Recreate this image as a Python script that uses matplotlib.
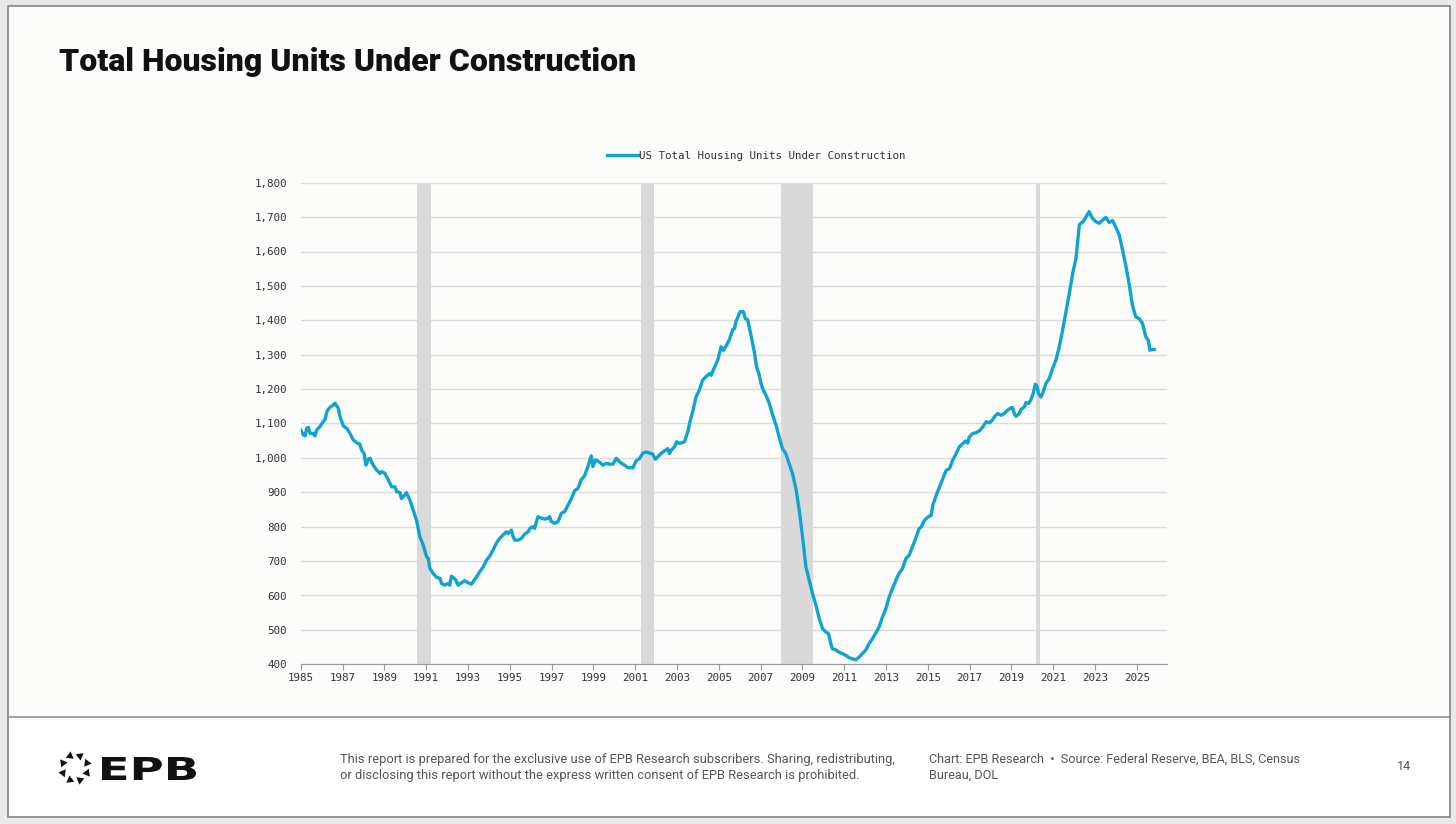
import numpy as np
import matplotlib
matplotlib.use("Agg")
from matplotlib import pyplot as plt
from matplotlib.patches import Rectangle, Polygon, PathPatch
from matplotlib.textpath import TextPath
from matplotlib.font_manager import FontProperties
from matplotlib.transforms import Affine2D
from matplotlib.ticker import FuncFormatter, MultipleLocator

# Fechas (año decimal) y miles de viviendas en construcción
fechas = [
    1985.00, 1985.13, 1985.21, 1985.29, 1985.37, 1985.45, 1985.61, 1985.68, 1985.76, 1985.92,
    1986.08, 1986.16, 1986.27, 1986.40, 1986.56, 1986.64, 1986.80, 1986.88, 1987.04, 1987.20,
    1987.36, 1987.52, 1987.68, 1987.83, 1987.91, 1988.03, 1988.12, 1988.23, 1988.31, 1988.47,
    1988.63, 1988.79, 1988.87, 1989.03, 1989.19, 1989.35, 1989.51, 1989.59, 1989.75, 1989.82,
    1989.98, 1990.06, 1990.22, 1990.38, 1990.54, 1990.70, 1990.86, 1991.02, 1991.10, 1991.18,
    1991.34, 1991.50, 1991.66, 1991.74, 1991.89, 1992.05, 1992.13, 1992.21, 1992.29, 1992.42,
    1992.53, 1992.69, 1992.85, 1993.01, 1993.17, 1993.25, 1993.41, 1993.57, 1993.73, 1993.89,
    1994.04, 1994.20, 1994.36, 1994.52, 1994.68, 1994.84, 1994.92, 1995.08, 1995.16, 1995.24,
    1995.40, 1995.56, 1995.72, 1995.88, 1995.96, 1996.11, 1996.19, 1996.35, 1996.51, 1996.67,
    1996.83, 1996.91, 1996.99, 1997.15, 1997.31, 1997.47, 1997.63, 1997.79, 1997.95, 1998.11,
    1998.26, 1998.42, 1998.58, 1998.74, 1998.90, 1998.98, 1999.11, 1999.27, 1999.46, 1999.62,
    1999.78, 1999.94, 2000.10, 2000.25, 2000.41, 2000.65, 2000.89, 2001.05, 2001.21, 2001.37,
    2001.53, 2001.68, 2001.84, 2001.97, 2002.08, 2002.24, 2002.40, 2002.56, 2002.64, 2002.72,
    2002.88, 2002.99, 2003.12, 2003.36, 2003.52, 2003.60, 2003.75, 2003.91, 2004.07, 2004.23,
    2004.39, 2004.55, 2004.63, 2004.79, 2004.95, 2005.11, 2005.22, 2005.35, 2005.51, 2005.67,
    2005.75, 2005.82, 2006.02, 2006.18, 2006.27, 2006.38, 2006.54, 2006.70, 2006.81, 2006.94,
    2007.02, 2007.13, 2007.26, 2007.42, 2007.58, 2007.74, 2007.89, 2008.05, 2008.21, 2008.37,
    2008.53, 2008.69, 2008.85, 2009.01, 2009.17, 2009.33, 2009.49, 2009.65, 2009.81, 2009.97,
    2010.12, 2010.25, 2010.36, 2010.44, 2010.60, 2010.76, 2010.92, 2011.08, 2011.24, 2011.40,
    2011.56, 2011.68, 2011.88, 2012.04, 2012.19, 2012.35, 2012.51, 2012.67, 2012.83, 2012.99,
    2013.15, 2013.31, 2013.47, 2013.63, 2013.79, 2013.95, 2014.11, 2014.26, 2014.42, 2014.58,
    2014.68, 2014.84, 2015.00, 2015.16, 2015.24, 2015.40, 2015.56, 2015.72, 2015.88, 2016.04,
    2016.19, 2016.35, 2016.51, 2016.67, 2016.80, 2016.91, 2016.99, 2017.15, 2017.31, 2017.47,
    2017.63, 2017.79, 2017.95, 2018.11, 2018.18, 2018.34, 2018.50, 2018.66, 2018.82, 2018.98,
    2019.06, 2019.14, 2019.22, 2019.38, 2019.46, 2019.62, 2019.70, 2019.82, 2019.94, 2020.05,
    2020.14, 2020.21, 2020.30, 2020.41, 2020.49, 2020.65, 2020.81, 2020.97, 2021.13, 2021.29,
    2021.45, 2021.61, 2021.77, 2021.93, 2022.09, 2022.25, 2022.32, 2022.44, 2022.56, 2022.72,
    2022.88, 2023.04, 2023.20, 2023.36, 2023.52, 2023.68, 2023.84, 2024.00, 2024.16, 2024.32,
    2024.47, 2024.63, 2024.79, 2024.95, 2025.11, 2025.27, 2025.43, 2025.56, 2025.62, 2025.72,
    2025.83,
]
viviendas = [
    1081, 1067, 1064, 1086, 1089, 1071, 1071, 1064, 1081, 1091,
    1105, 1112, 1137, 1147, 1154, 1159, 1144, 1120, 1093, 1086,
    1071, 1052, 1044, 1040, 1023, 1013, 979, 996, 999, 979,
    965, 955, 960, 955, 936, 916, 916, 902, 899, 882,
    892, 899, 878, 848, 819, 771, 747, 713, 708, 679,
    664, 653, 650, 635, 630, 635, 630, 656, 653, 645,
    630, 637, 643, 637, 633, 640, 654, 669, 683, 703,
    714, 732, 752, 766, 776, 785, 780, 790, 771, 761,
    761, 766, 779, 785, 795, 800, 795, 829, 825, 822,
    825, 829, 815, 810, 815, 839, 844, 863, 882, 905,
    911, 936, 948, 975, 1006, 975, 994, 989, 979, 984,
    982, 982, 999, 989, 982, 972, 971, 992, 998, 1014,
    1017, 1014, 1011, 996, 1003, 1013, 1020, 1027, 1013, 1022,
    1032, 1047, 1042, 1047, 1076, 1100, 1134, 1177, 1197, 1226,
    1236, 1245, 1240, 1263, 1284, 1323, 1313, 1325, 1344, 1373,
    1376, 1396, 1425, 1425, 1405, 1402, 1357, 1308, 1265, 1240,
    1216, 1197, 1182, 1158, 1124, 1095, 1061, 1027, 1012, 983,
    954, 911, 848, 770, 683, 644, 605, 571, 532, 503,
    494, 489, 460, 445, 442, 435, 431, 426, 419, 416,
    413, 419, 432, 442, 460, 474, 491, 508, 537, 561,
    595, 620, 644, 665, 678, 707, 717, 741, 765, 794,
    799, 818, 828, 833, 862, 891, 915, 940, 964, 969,
    993, 1012, 1032, 1041, 1049, 1043, 1061, 1071, 1073, 1079,
    1090, 1105, 1102, 1111, 1119, 1129, 1124, 1129, 1139, 1146,
    1146, 1129, 1121, 1129, 1141, 1148, 1161, 1158, 1170, 1189,
    1214, 1211, 1187, 1177, 1187, 1216, 1231, 1260, 1284, 1323,
    1371, 1425, 1478, 1536, 1580, 1677, 1682, 1687, 1699, 1716,
    1696, 1687, 1682, 1691, 1699, 1684, 1690, 1670, 1648, 1604,
    1560, 1507, 1444, 1410, 1405, 1391, 1352, 1340, 1313, 1315,
    1315,
]

# Recesiones (inicio, fin)
recesion_inicio = [1990.55, 2001.27, 2008.00, 2020.17]
recesion_fin = [1991.22, 2001.89, 2009.50, 2020.36]

anios_ticks = list(range(1985, 2026, 2))

titulo = "Total Housing Units Under Construction"
serie = "US Total Housing Units Under Construction"
nota = ("This report is prepared for the exclusive use of EPB Research subscribers. Sharing, redistributing,\n"
        "or disclosing this report without the express written consent of EPB Research is prohibited.")
fuente = "Chart: EPB Research  \u2022  Source: Federal Reserve, BEA, BLS, Census\nBureau, DOL"

W, H = 1456, 824
azul = "#0fa3d1"
mono = "DejaVu Sans Mono"


def fx(px):
    return px / W


def fy(py):
    return 1 - py / H


fig = plt.figure(figsize=(W / 100, H / 100), dpi=100)
fig.patch.set_facecolor("#e9e9e9")

# Panel de la diapositiva
fig.patches.append(Rectangle((fx(8), fy(717)), fx(1442), 711 / H, transform=fig.transFigure,
                             facecolor="#fcfcfa", edgecolor="none", zorder=-3))
fig.patches.append(Rectangle((fx(8), fy(817)), fx(1442), 100 / H, transform=fig.transFigure,
                             facecolor="#ffffff", edgecolor="none", zorder=-3))
fig.patches.append(Rectangle((fx(8), fy(817)), fx(1442), 811 / H, transform=fig.transFigure,
                             facecolor="none", edgecolor="#8c8c8c", linewidth=1.3, zorder=-2))
fig.lines.append(plt.Line2D([fx(8), fx(1450)], [fy(717), fy(717)], transform=fig.transFigure,
                            color="#9a9a9a", linewidth=1.3, zorder=-2))

fig.text(fx(59), fy(62), titulo, fontsize=23, fontweight="black", family="Roboto",
         color="#111111", va="center", ha="left")

ax = fig.add_axes([fx(300.7), fy(664.3), fx(1166.7 - 300.7), (664.3 - 182.7) / H])
ax.set_facecolor("none")
ax.set_zorder(2)

for a, b in zip(recesion_inicio, recesion_fin):
    ax.axvspan(a, b, color="#d9d9d9", linewidth=0, zorder=1)

ax.plot(fechas, viviendas, color=azul, linewidth=2.4, solid_joinstyle="round", zorder=3, label=serie)

ax.set_xlim(1985, 2026.43)
ax.set_ylim(400, 1800)
ax.yaxis.set_major_locator(MultipleLocator(100))
ax.yaxis.set_major_formatter(FuncFormatter(lambda v, p: f"{int(v):,}"))
ax.set_xticks(anios_ticks)
ax.set_xticklabels([str(a) for a in anios_ticks])
ax.grid(axis="y", color="#dcdcdc", linewidth=1.0, zorder=0)
ax.set_axisbelow(True)
for s in ["top", "right", "left"]:
    ax.spines[s].set_visible(False)
ax.spines["bottom"].set_color("#9a9a9a")
ax.spines["bottom"].set_zorder(4)
ax.tick_params(axis="y", length=0, pad=10, labelsize=7.8, labelcolor="#333333")
ax.tick_params(axis="x", length=4, width=0.8, color="#9a9a9a", pad=2, labelsize=7.8, labelcolor="#333333")
for lab in ax.get_xticklabels() + ax.get_yticklabels():
    lab.set_family(mono)

leg = ax.legend(loc="center", bbox_to_anchor=(0.526, 1.0554), frameon=False, handlelength=2.9,
                handletextpad=0.0, borderpad=0, prop={"family": mono, "size": 7.8})
for t in leg.get_texts():
    t.set_color("#333333")

# Logo EPB: anillo de triángulos
cx, cy, r = 75, 768, 13
for k in range(8):
    ang = np.pi / 8 + k * np.pi / 4
    px, py = cx + r * np.cos(ang), cy - r * np.sin(ang)
    tang = ang + np.pi / 2
    s = 4.6
    pts = []
    for da in [0, 2 * np.pi / 3, 4 * np.pi / 3]:
        pts.append((fx(px + s * np.cos(tang + da)), fy(py - s * np.sin(tang + da))))
    fig.patches.append(Polygon(pts, closed=True, transform=fig.transFigure, facecolor="#111111",
                               edgecolor="none", zorder=2))

# Letras EPB ensanchadas (píxeles de pantalla)
tp = TextPath((0, 0), "EPB", size=30, prop=FontProperties(family="DejaVu Sans", weight="bold"))
ext = tp.get_extents()
sx = 94 / ext.width
sy = 23 / ext.height
tr = Affine2D().translate(-ext.x0, -ext.y0).scale(sx, sy).translate(102, H - 780)
fig.patches.append(PathPatch(tr.transform_path(tp), transform=None, facecolor="#111111",
                             edgecolor="none", zorder=2))

fig.text(fx(340), fy(767), nota, fontsize=9.3, family="Roboto", color="#555555",
         va="center", ha="left", linespacing=1.3)
fig.text(fx(929), fy(767), fuente, fontsize=9.1, family="Roboto", color="#555555",
         va="center", ha="left", linespacing=1.3)
fig.text(fx(1397), fy(767), "14", fontsize=9.1, family="Roboto", color="#555555",
         va="center", ha="left")

fig.savefig("out.png", dpi=100, facecolor=fig.get_facecolor())
